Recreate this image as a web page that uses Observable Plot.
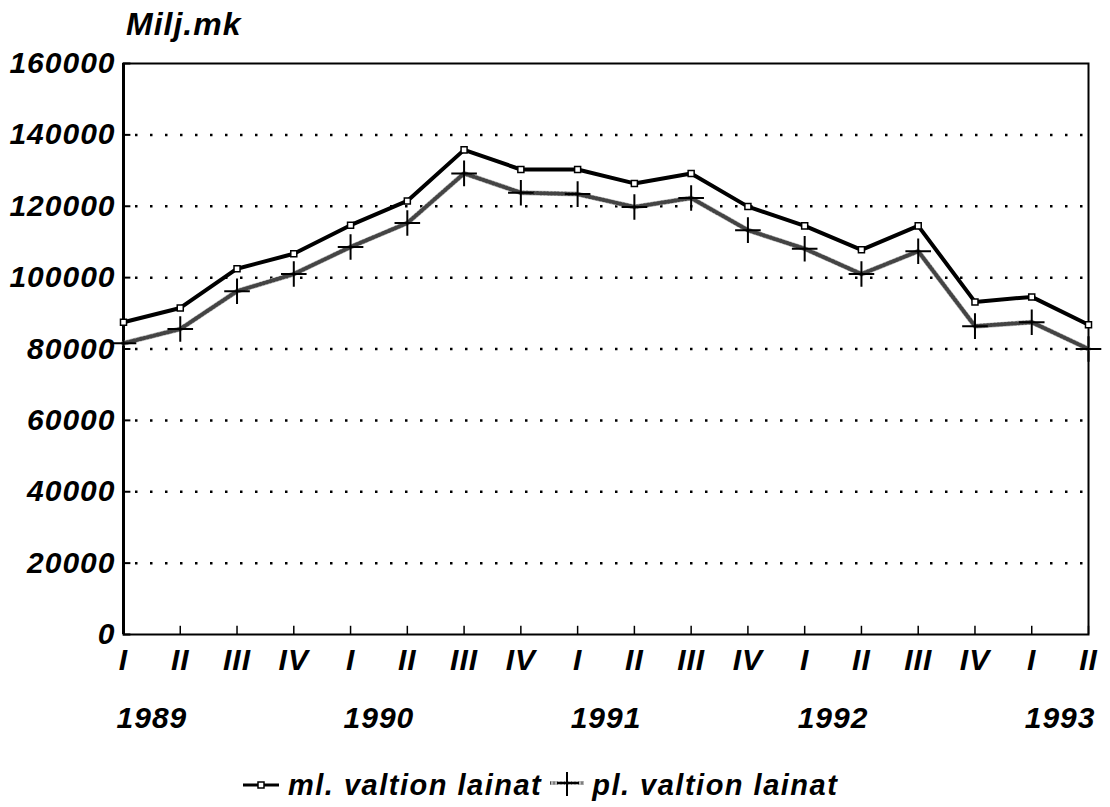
<!DOCTYPE html>
<html><head><meta charset="utf-8">
<script src="https://cdn.jsdelivr.net/npm/d3@7"></script>
<script src="https://cdn.jsdelivr.net/npm/@observablehq/plot@0.6"></script>
<style>
body{margin:0;background:#fff;font-family:"Liberation Sans",Arial,sans-serif;font-weight:bold;font-style:italic;color:#000}
#wrap{position:relative;width:1110px;height:807px;overflow:hidden}
#title{position:absolute;left:126px;top:9px;font-size:32px;line-height:30px;letter-spacing:1px;z-index:2}
#chart{position:absolute;left:0;top:0;z-index:1}
#legend{position:absolute;left:243px;top:770px;display:flex;align-items:center;font-size:29px;line-height:30px;letter-spacing:1.5px;white-space:nowrap;z-index:2}
#legend svg{display:block}
svg text{letter-spacing:1px}
</style></head>
<body><div id="wrap"><div id="chart"></div><div id="title">Milj.mk</div><div id="legend"></div></div>
<script>
const quarters = ["I","II","III","IV","I","II","III","IV","I","II","III","IV","I","II","III","IV","I","II"];
const years = ["1989","1990","1991","1992","1993"];
const seriesNames = ["ml. valtion lainat","pl. valtion lainat"];
const ml = [87500, 91500, 102500, 106700, 114700, 121500, 135800, 130300, 130300, 126400, 129200, 119900, 114500, 107800, 114500, 93200, 94600, 86800];
const pl = [81600, 85600, 96200, 101000, 108600, 115300, 129200, 123800, 123400, 119800, 122300, 113300, 108100, 101000, 107400, 86400, 87500, 80000];
const yTicks = [0,20000,40000,60000,80000,100000,120000,140000,160000];

const idx = quarters.map((q,i)=>i);
const rows = idx.map(i => ({i, ml: ml[i], pl: pl[i]}));
const yearPos = years.map((y,k)=>k*4+0.5);
const cross = {draw(ctx,size){const r=Math.sqrt(size/Math.PI)*1.6;ctx.moveTo(-r,0);ctx.lineTo(r,0);ctx.moveTo(0,-r);ctx.lineTo(0,r);}};

const chart = Plot.plot({
  width:1110, height:750, marginLeft:123, marginRight:22, marginTop:63, marginBottom:116,
  x:{domain:[0,17], label:null}, y:{domain:[0,160000], label:null},
  style:{fontFamily:'"Liberation Sans",Arial,sans-serif', fontSize:"30px", fontWeight:"bold", fontStyle:"italic", background:"white", color:"black", overflow:"visible"},
  marks:[
    Plot.ruleY(yTicks.slice(1,-1), {stroke:"black", strokeWidth:2.5, strokeDasharray:"2.5,12.5", strokeDashoffset:-12}),
    Plot.ruleY(yTicks, {x1:0, x2:0.13, stroke:"black", strokeWidth:2}),
    Plot.ruleX(idx, {y1:0, y2:2300, stroke:"black", strokeWidth:1.5}),
    Plot.frame({stroke:"black", strokeWidth:2}),
    Plot.ruleX([0], {stroke:"black", strokeWidth:3}),
    Plot.axisY({ticks:yTicks, tickSize:0, tickPadding:8, tickFormat:d=>String(d), fontSize:30, label:null}),
    Plot.axisX({ticks:idx, tickSize:0, tickPadding:14, tickFormat:i=>quarters[i], fontSize:30, label:null}),
    Plot.axisX({ticks:yearPos, tickSize:0, tickPadding:72, tickFormat:p=>years[Math.floor(p/4)], fontSize:30, label:null}),
    Plot.line(rows,{x:"i", y:"pl", stroke:"#b8b8b8", strokeWidth:5}),
    Plot.line(rows,{x:"i", y:"pl", stroke:"#444", strokeWidth:4, strokeDasharray:"1,2.5"}),
    Plot.line(rows,{x:"i", y:"ml", stroke:"black", strokeWidth:4}),
    Plot.dot(rows,{x:"i", y:"pl", symbol:cross, r:8, stroke:"black", strokeWidth:2, fill:"none"}),
    Plot.dot(rows,{x:"i", y:"ml", symbol:"square", r:3.4, fill:"white", stroke:"black", strokeWidth:1.5})
  ]
});
document.getElementById("chart").appendChild(chart);

const legend = document.getElementById("legend");
const sym1 = `<svg width="36" height="20"><line x1="0" y1="10" x2="36" y2="10" stroke="black" stroke-width="3"/><rect x="15" y="7" width="6" height="6" fill="white" stroke="black" stroke-width="1.5"/></svg>`;
const sym2 = `<svg width="34" height="30"><line x1="0" y1="13" x2="34" y2="13" stroke="#b8b8b8" stroke-width="4"/><line x1="0" y1="13" x2="34" y2="13" stroke="#444" stroke-width="3" stroke-dasharray="1,2.5"/><line x1="7" y1="13" x2="29" y2="13" stroke="black" stroke-width="2"/><line x1="17" y1="2" x2="17" y2="26" stroke="black" stroke-width="2"/></svg>`;
legend.innerHTML = `${sym1}<span style="margin-left:9px;margin-right:8px">${seriesNames[0]}</span>${sym2}<span style="margin-left:8px">${seriesNames[1]}</span>`;
</script></body></html>
